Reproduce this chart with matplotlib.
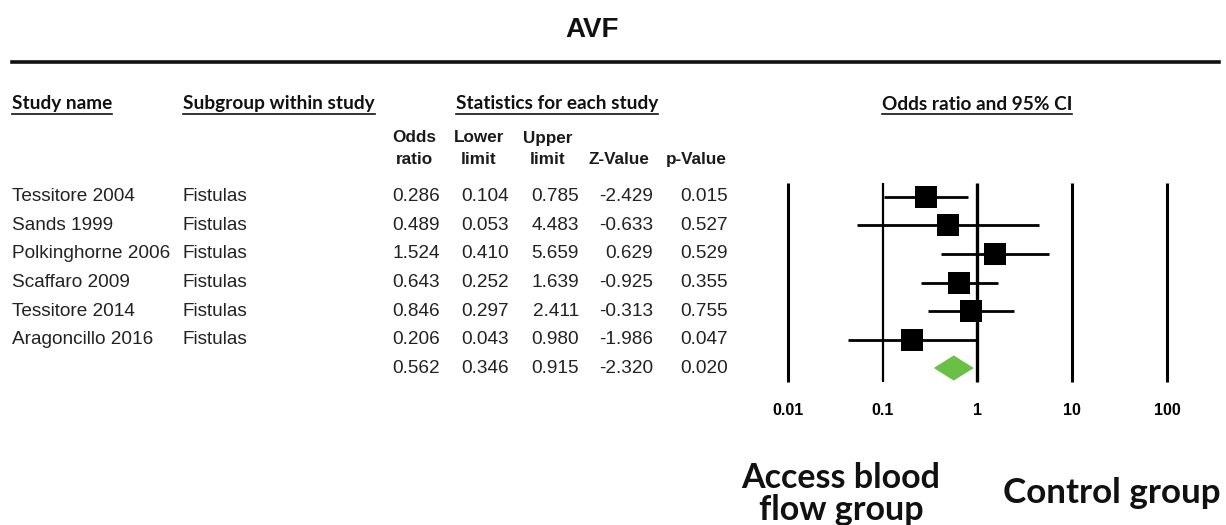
import numpy as np
import matplotlib
matplotlib.use("Agg")
import matplotlib.pyplot as plt
import matplotlib.transforms as mtransforms
from matplotlib.lines import Line2D
from matplotlib.ticker import NullLocator

# Study-level results
studies = ["Tessitore 2004", "Sands 1999", "Polkinghorne 2006",
           "Scaffaro 2009", "Tessitore 2014", "Aragoncillo 2016"]
subgroups = ["Fistulas", "Fistulas", "Fistulas", "Fistulas", "Fistulas", "Fistulas"]
odds_ratio = [0.286, 0.489, 1.524, 0.643, 0.846, 0.206]
lower_limit = [0.104, 0.053, 0.410, 0.252, 0.297, 0.043]
upper_limit = [0.785, 4.483, 5.659, 1.639, 2.411, 0.980]
z_value = [-2.429, -0.633, 0.629, -0.925, -0.313, -1.986]
p_value = [0.015, 0.527, 0.529, 0.355, 0.755, 0.047]

# Pooled estimate
pooled_or = 0.562
pooled_lower = 0.346
pooled_upper = 0.915
pooled_z = -2.320
pooled_p = 0.020

ticks = [0.01, 0.1, 1, 10, 100]
tick_labels = ["0.01", "0.1", "1", "10", "100"]

W, H = 1226, 525
fig = plt.figure(figsize=(W / 100, H / 100), dpi=100)
fig.patch.set_facecolor("white")


def fx(px):
    return px / W


def fy(py):
    return 1 - py / H


# forest panel (log scale)
ax = fig.add_axes([fx(740.6), fy(395), (1223.8 - 740.6) / W, (395 - 160) / H])
ax.set_xscale("log")
ax.set_xlim(10 ** -2.5, 10 ** 2.6)
ax.set_ylim(6.947, -1.298)
ax.patch.set_visible(False)
for s in ax.spines.values():
    s.set_visible(False)

n = len(studies)
rows = np.arange(n)

ax.vlines(ticks, -0.5, n + 0.5, colors="black", linewidth=[2.2, 1.6, 2.4, 2.2, 2.2])
ax.hlines(rows, lower_limit, upper_limit, color="black", lw=2)
ax.scatter(odds_ratio, rows, marker="s", s=16.5 ** 2, color="black",
           linewidths=0, zorder=3)
ax.fill([pooled_lower, pooled_or, pooled_upper, pooled_or],
        [n, n - 0.44, n, n + 0.44], color="#6abf45", lw=0, zorder=3)

ax.set_xticks(ticks)
ax.set_xticklabels(tick_labels, fontweight="bold", fontsize=11.5,
                   family="Liberation Sans")
ax.xaxis.set_minor_locator(NullLocator())
ax.tick_params(axis="x", length=0, pad=6)
ax.set_yticks([])

# table text, rows share the forest y scale
row_tf = mtransforms.blended_transform_factory(fig.transFigure, ax.transData)
body = dict(fontsize=13.7, family="Liberation Sans", color="#222222",
            va="center", transform=row_tf)
col_right = [440, 509, 579, 653, 728]

for i in range(n):
    fig.text(fx(12), i, studies[i], ha="left", **body)
    fig.text(fx(183), i, subgroups[i], ha="left", **body)
    vals = [odds_ratio[i], lower_limit[i], upper_limit[i], z_value[i], p_value[i]]
    for x, v in zip(col_right, vals):
        fig.text(fx(x), i, f"{v:.3f}", ha="right", **body)

for x, v in zip(col_right, [pooled_or, pooled_lower, pooled_upper, pooled_z, pooled_p]):
    fig.text(fx(x), n, f"{v:.3f}", ha="right", **body)

# column headers
col_heads = [("Odds", "ratio"), ("Lower", "limit"), ("Upper", "limit"),
             ("", "Z-Value"), ("", "p-Value")]
col_mid = [414, 479, 548, 619, 696]
for x, (top, bot) in zip(col_mid, col_heads):
    fig.text(fx(x), fy(138), top, ha="center", va="center", fontsize=12.3,
             fontweight="bold", family="Liberation Sans", color="#1a1a1a")
    fig.text(fx(x), fy(159), bot, ha="center", va="center", fontsize=12.3,
             fontweight="bold", family="Liberation Sans", color="#1a1a1a")

# group headers, underlined
group_heads = [("Study name", 12, "left"), ("Subgroup within study", 183, "left"),
               ("Statistics for each study", 456, "left"),
               ("Odds ratio and 95% CI", 977, "center")]
head_texts = []
for label, x, ha in group_heads:
    t = fig.text(fx(x), fy(104), label, ha=ha, va="center", fontsize=13.7,
                 fontweight="bold", family="Lato", color="#111111")
    head_texts.append(t)

fig.text(fx(592), fy(30), "AVF", ha="center", va="center", fontsize=20,
         fontweight="bold", family="Liberation Sans", color="#111111")
fig.add_artist(Line2D([fx(12), fx(1219)], [fy(62), fy(62)], color="#111111",
                      lw=2.6, transform=fig.transFigure))

fig.text(fx(841), fy(494), "Access blood\nflow group", ha="center", va="center",
         fontsize=24.5, fontweight="bold", family="Lato", linespacing=1.0,
         color="#111111")
fig.text(fx(1112), fy(493), "Control group", ha="center", va="center",
         fontsize=25.2, fontweight="bold", family="Lato", color="#111111")

fig.canvas.draw()
renderer = fig.canvas.get_renderer()
for t in head_texts:
    bb = t.get_window_extent(renderer)
    yline = bb.y0 - 1
    fig.add_artist(Line2D([bb.x0 / W, bb.x1 / W], [yline / H, yline / H],
                          color="#111111", lw=1.2, transform=fig.transFigure))

fig.savefig("out.png", dpi=100)
